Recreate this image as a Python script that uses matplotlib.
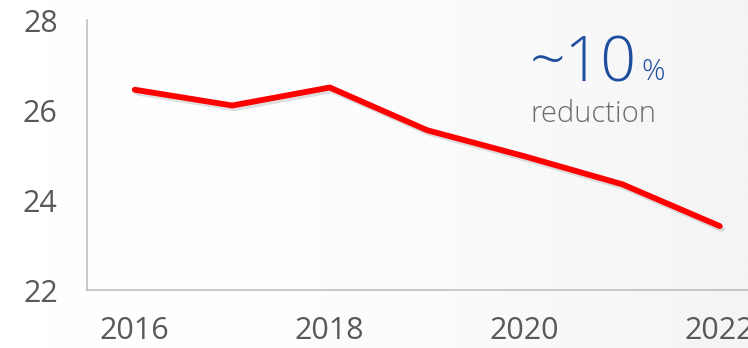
import numpy as np
import matplotlib.pyplot as plt
import matplotlib.patheffects as pe
from matplotlib.colors import LinearSegmentedColormap

# yearly values
years = [2016, 2017, 2018, 2019, 2020, 2021, 2022]
values = [26.45, 26.10, 26.50, 25.55, 24.97, 24.35, 23.42]

xtick_years = [2016, 2018, 2020, 2022]
ytick_vals = [22, 24, 26, 28]

headline = "~10"
headline_unit = "%"
subline = "reduction"

plt.rcParams['font.family'] = ['Open Sans', 'DejaVu Sans']

fig = plt.figure(figsize=(7.48, 3.48), dpi=100)

# soft background shading, white on the left fading to light grey
bg = fig.add_axes([0, 0, 1, 1], zorder=-10)
grad = np.linspace(0, 1, 256)[None, :] ** 2
cmap = LinearSegmentedColormap.from_list("bg", ["#ffffff", "#f4f4f4"])
bg.imshow(grad, aspect='auto', cmap=cmap, extent=[0, 1, 0, 1])
bg.axis('off')

ax = fig.add_axes([87 / 748, 58 / 348, 1 - 87 / 748, 270 / 348])
ax.patch.set_alpha(0)

ax.plot(years, values, color='#ff0000', lw=4.2, solid_capstyle='round',
        path_effects=[pe.SimpleLineShadow(offset=(1.5, -2), shadow_color='#000000', alpha=0.12),
                      pe.Normal()])

ax.set_xlim(2015.51, 2022.29)
ax.set_ylim(22, 28)
ax.set_xticks(xtick_years)
ax.set_yticks(ytick_vals)
ax.tick_params(axis='both', length=0, labelsize=22, colors='#595959')
ax.tick_params(axis='y', pad=21)
ax.tick_params(axis='x', pad=19)

for side in ['top', 'right']:
    ax.spines[side].set_visible(False)
for side in ['left', 'bottom']:
    ax.spines[side].set_color('#c0c0c0')
    ax.spines[side].set_linewidth(1.2)

fig.text(530 / 748, 1 - 82 / 348, headline, color='#1f4e9e', fontsize=45,
         fontweight='light', ha='left', va='baseline')
fig.text(641 / 748, 1 - 80 / 348, headline_unit, color='#1f4e9e', fontsize=21,
         fontweight='light', ha='left', va='baseline')
fig.text(530 / 748, 1 - 122 / 348, subline, color='#6b6b6b', fontsize=21,
         fontweight='light', ha='left', va='baseline')

fig.savefig('out.png', dpi=100)
